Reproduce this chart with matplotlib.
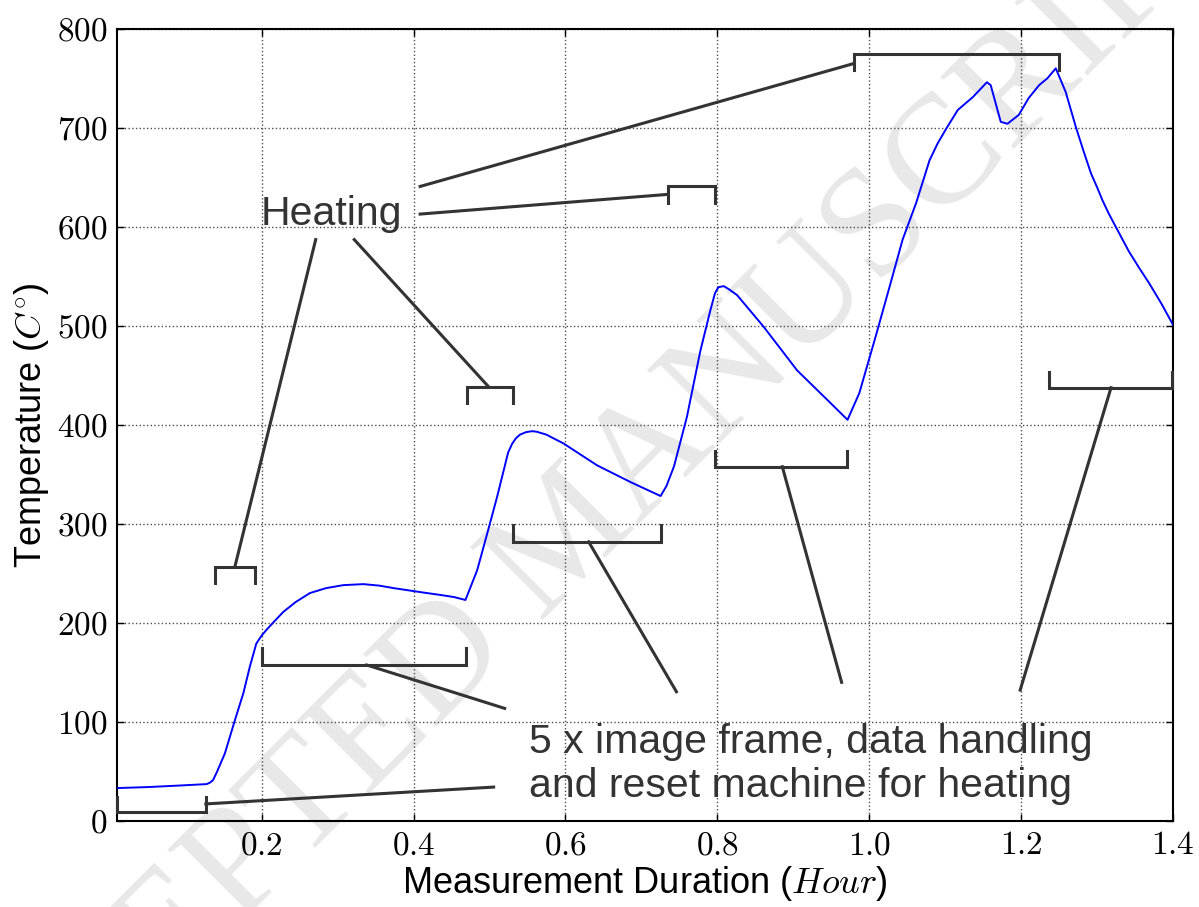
import matplotlib
matplotlib.use('Agg')
import matplotlib.pyplot as plt
from matplotlib.ticker import FuncFormatter

# temperature log over the run
hours = [0.0096, 0.05, 0.09, 0.1275, 0.132, 0.136, 0.141, 0.1516, 0.165, 0.176,
         0.1846, 0.193, 0.2, 0.2066, 0.215, 0.2286, 0.245, 0.2637, 0.285, 0.3077,
         0.334, 0.355, 0.3736, 0.3955, 0.4176, 0.436, 0.453, 0.4684, 0.4838, 0.497,
         0.510, 0.5246, 0.530, 0.535, 0.5402, 0.548, 0.556, 0.562, 0.575, 0.5977,
         0.6417, 0.686, 0.7253, 0.733, 0.743, 0.760, 0.7778, 0.791, 0.797, 0.8015,
         0.8085, 0.815, 0.826, 0.861, 0.905, 0.949, 0.9715, 0.987, 1.0088, 1.0267,
         1.044, 1.0618, 1.0794, 1.09, 1.1014, 1.1167, 1.1365, 1.155, 1.160, 1.1732,
         1.182, 1.197, 1.210, 1.2237, 1.2347, 1.2457, 1.2588, 1.272, 1.282, 1.292,
         1.30, 1.307, 1.315, 1.3246, 1.342, 1.355, 1.3686, 1.385, 1.4]
temps = [33, 34, 35.5, 37, 38.5, 41, 49, 68, 102, 129,
         156, 179, 187, 193, 200, 211, 221, 230, 235, 238,
         239, 237.5, 235, 232.5, 230, 228, 226, 223, 253, 290,
         327, 372, 381, 386.5, 390, 392.5, 393.5, 393, 390, 381,
         359, 342, 328, 338, 358, 408, 475, 516, 533, 539,
         540, 537, 531, 499, 455, 422, 405, 432, 490, 539,
         587, 624, 667, 684, 699, 718, 731, 746, 743, 706,
         704, 713, 730, 743, 750, 760, 736, 701, 677, 654,
         640, 627, 614, 600, 575, 559, 543, 522, 501]

xticks = [0.2, 0.4, 0.6, 0.8, 1.0, 1.2, 1.4]
yticks = [0, 100, 200, 300, 400, 500, 600, 700, 800]

heat_label = 'Heating'
idle_label = '5 x image frame, data handling\nand reset machine for heating'

# brackets: (x start, x end, y, tick end, attach x, attach y, line end x, line end y)
heat_brackets = [
    (0.1384, 0.1912, 256.6, 240.4, 0.1648, 256.6, 0.2712, 587),
    (0.4707, 0.5305, 438.4, 421.6, 0.4988, 438.4, 0.322, 587),
    (0.7348, 0.7976, 641.0, 624.0, 0.7348, 632.7, 0.4087, 612.8),
    (0.9803, 1.2494, 774.0, 758.0, 0.9803, 765.0, 0.4087, 640.7),
]
idle_brackets = [
    (0.0096, 0.1266, 8.5, 24.0, 0.1266, 17.0, 0.5055, 34.0),
    (0.2, 0.4697, 157.3, 174.0, 0.3384, 157.3, 0.52, 113.5),
    (0.5305, 0.7265, 281.8, 298.7, 0.6306, 281.8, 0.7462, 130.3),
    (0.7976, 0.9703, 357.6, 373.7, 0.8856, 357.6, 0.9637, 139.8),
    (1.2371, 1.399, 437.4, 453.5, 1.3184, 437.4, 1.1988, 132.0),
]

plt.rcParams['mathtext.fontset'] = 'cm'
plt.rcParams['font.family'] = ['Liberation Sans', 'DejaVu Sans']

fig = plt.figure(figsize=(11.99, 9.07), dpi=100)
ax = fig.add_axes([0.0976, 0.0951, 0.8807, 0.8732])

# watermark behind everything
ax.text(0.475, 0.405, 'ACCEPTED MANUSCRIPT', transform=fig.transFigure,
        rotation=45, ha='center', va='center', fontsize=112,
        family='Liberation Serif', color='0.91', zorder=0.5, clip_on=False)

ax.plot(hours, temps, color='b', lw=1.4, zorder=3)

bc = '#333333'
for x0, x1, y, yt, ax_, ay, lx, ly in heat_brackets + idle_brackets:
    ax.plot([x0, x0, x1, x1], [yt, y, y, yt], color=bc, lw=2.2,
            solid_joinstyle='miter', zorder=4, clip_on=False)
    ax.plot([ax_, lx], [ay, ly], color=bc, lw=2.2, zorder=4)

ax.text(0.1987, 601.7, heat_label, fontsize=29.5, color=bc, va='baseline', zorder=5)
ax.text(0.5524, 23.7, idle_label, fontsize=29.5, color=bc, va='baseline',
        linespacing=1.22, zorder=5)

ax.set_xlim(0.0096, 1.4)
ax.set_ylim(0, 800)
ax.set_xticks(xticks)
ax.set_yticks(yticks)
ax.xaxis.set_major_formatter(FuncFormatter(lambda v, p: '$%.1f$' % v))
ax.yaxis.set_major_formatter(FuncFormatter(lambda v, p: '$%d$' % v))
ax.tick_params(direction='in', length=5, width=1, top=True, right=True,
               labelsize=24, pad=7)
ax.grid(True, color='0.3', linestyle=':', lw=1)
for s in ax.spines.values():
    s.set_linewidth(1.5)

ax.set_xlabel('Measurement Duration ($Hour$)', fontsize=26, labelpad=2)
ax.set_ylabel('Temperature ($C^{\\circ}$)', fontsize=26, labelpad=4)

fig.savefig('out.png', dpi=100)
